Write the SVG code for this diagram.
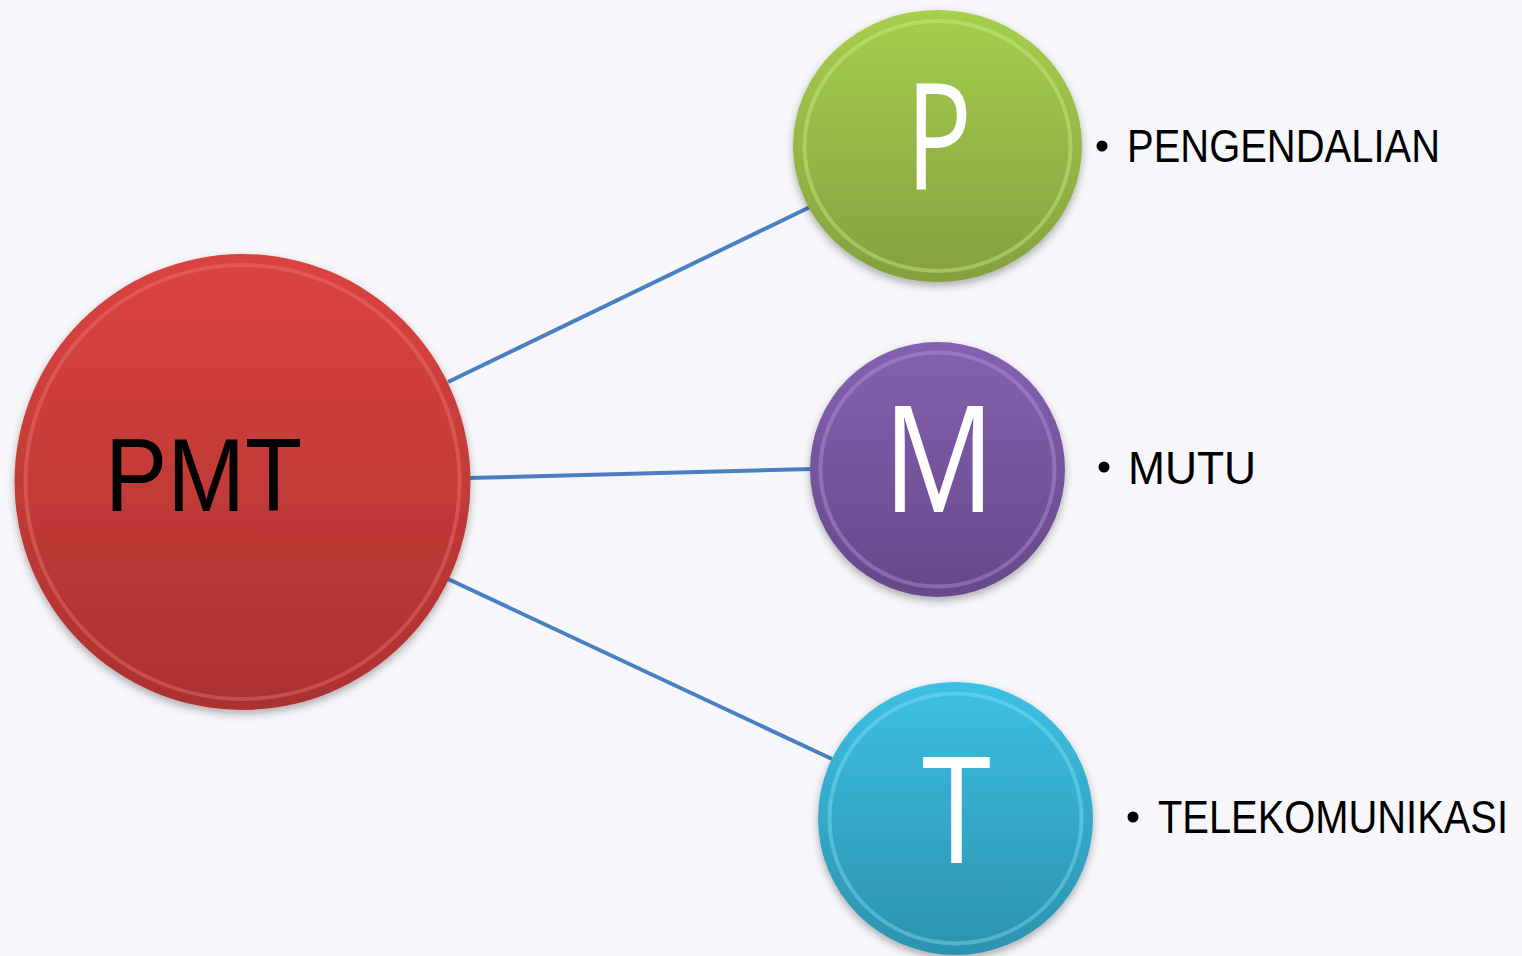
<svg xmlns="http://www.w3.org/2000/svg" width="1522" height="956" viewBox="0 0 1522 956">
<style>
.lbl{font-family:"Liberation Sans","Open Sans",Arial,sans-serif;fill:#000;}
.big{font-family:"Open Sans","Liberation Sans",Arial,sans-serif;fill:#fff;}
.conn{stroke:#4a7fc1;stroke-width:4;fill:none;}
.rim{fill:none;stroke-width:4;opacity:0.4;}
</style>
<defs>
<linearGradient id="gRed" x1="0" y1="0" x2="0" y2="1"><stop offset="0" stop-color="#da4340"/><stop offset="1" stop-color="#ab3230"/></linearGradient>
<linearGradient id="gGreen" x1="0" y1="0" x2="0" y2="1"><stop offset="0" stop-color="#a6cf4e"/><stop offset="1" stop-color="#84a03e"/></linearGradient>
<linearGradient id="gPurple" x1="0" y1="0" x2="0" y2="1"><stop offset="0" stop-color="#8361b0"/><stop offset="1" stop-color="#674889"/></linearGradient>
<linearGradient id="gCyan" x1="0" y1="0" x2="0" y2="1"><stop offset="0" stop-color="#3cc0e3"/><stop offset="1" stop-color="#2c92ae"/></linearGradient>
<filter id="sh" x="-10%" y="-10%" width="120%" height="125%"><feDropShadow dx="0" dy="4" stdDeviation="4" flood-color="#000" flood-opacity="0.3"/></filter>
</defs>
<rect width="1522" height="956" fill="#f7f7fb"/>
<g id="connectors">
<line class="conn" x1="448" y1="382" x2="810" y2="207"/>
<line class="conn" x1="468" y1="478" x2="812" y2="469"/>
<line class="conn" x1="448" y1="579" x2="832" y2="759"/>
</g>
<g id="node-pmt">
<circle cx="242.5" cy="482" r="228" fill="url(#gRed)" filter="url(#sh)"/>
<circle class="rim" cx="242.5" cy="482" r="217" stroke="#f07a75"/>
<text class="lbl" x="105" y="511" font-size="104" textLength="197" lengthAdjust="spacingAndGlyphs" fill="#0d0d0d">PMT</text>
</g>
<g id="node-p">
<ellipse cx="937.5" cy="146" rx="144.5" ry="136" fill="url(#gGreen)" filter="url(#sh)"/>
<ellipse class="rim" cx="937.5" cy="146" rx="133" ry="125" stroke="#d4f090"/>
<text class="big" x="906" y="190" font-size="148" textLength="66" lengthAdjust="spacingAndGlyphs">P</text>
</g>
<g id="node-m">
<circle cx="937.5" cy="469.5" r="127.5" fill="url(#gPurple)" filter="url(#sh)"/>
<circle class="rim" cx="937.5" cy="469.5" r="117" stroke="#b89ce0"/>
<text class="big" x="883" y="512" font-size="148" textLength="112" lengthAdjust="spacingAndGlyphs">M</text>
</g>
<g id="node-t">
<ellipse cx="955.5" cy="818.5" rx="137.5" ry="136.5" fill="url(#gCyan)" filter="url(#sh)"/>
<ellipse class="rim" cx="955.5" cy="818.5" rx="126" ry="125" stroke="#8ae4f8"/>
<text class="big" x="922" y="863" font-size="148" textLength="69" lengthAdjust="spacingAndGlyphs">T</text>
</g>
<g id="label-p">
<circle cx="1102" cy="146" r="5.5" fill="#000"/>
<text class="lbl" x="1127" y="162" font-size="47" textLength="313" lengthAdjust="spacingAndGlyphs">PENGENDALIAN</text>
</g>
<g id="label-m">
<circle cx="1104" cy="467" r="5.5" fill="#000"/>
<text class="lbl" x="1128" y="484" font-size="47" textLength="128" lengthAdjust="spacingAndGlyphs">MUTU</text>
</g>
<g id="label-t">
<circle cx="1133" cy="817" r="5.5" fill="#000"/>
<text class="lbl" x="1158" y="833" font-size="47" textLength="350" lengthAdjust="spacingAndGlyphs">TELEKOMUNIKASI</text>
</g>
</svg>
